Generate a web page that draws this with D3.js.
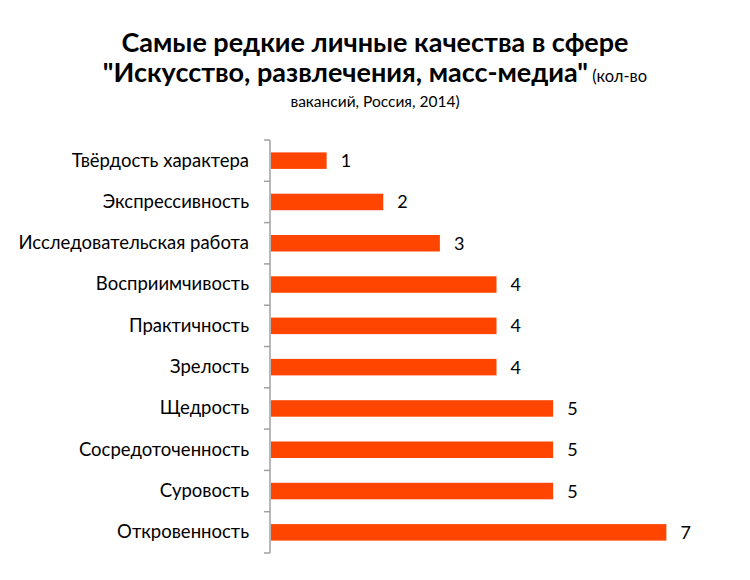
<!DOCTYPE html>
<html>
<head>
<meta charset="utf-8">
<script src="https://cdn.jsdelivr.net/npm/d3@7"></script>
<style>
body { margin: 0; background: #fff; }
</style>
</head>
<body>
<svg id="my_svg"></svg>
<script>
const width = 750;
const height = 580;

const categories = ["Твёрдость характера", "Экспрессивность", "Исследовательская работа",
    "Восприимчивость", "Практичность", "Зрелость", "Щедрость",
    "Сосредоточенность", "Суровость", "Откровенность"];
const values = [1, 2, 3, 4, 4, 4, 5, 5, 5, 7];

const font = "Lato, 'Open Sans', sans-serif";

const svg = d3.select('#my_svg')
    .attr('width', width)
    .attr('height', height);

// заголовок
const title = svg.append('text')
    .attr('text-anchor', 'middle')
    .attr('font-family', font)
    .attr('font-weight', 'bold')
    .attr('font-size', 27)
    .attr('fill', '#000');
title.append('tspan').attr('x', 375).attr('y', 52).text('Самые редкие личные качества в сфере');
const line2 = title.append('tspan').attr('x', 375).attr('y', 82);
line2.append('tspan').text('"Искусство, развлечения, масс-медиа"');
line2.append('tspan').attr('font-size', 16.5).attr('font-weight', 'normal').text(' (кол-во');

svg.append('text')
    .attr('x', 375)
    .attr('y', 107)
    .attr('text-anchor', 'middle')
    .attr('font-family', font)
    .attr('font-size', 15.5)
    .text('вакансий, Россия, 2014)');

const x0 = 270;
const x = d3.scaleLinear()
    .domain([0, 8])
    .range([x0, x0 + 453]);

const y = d3.scaleBand()
    .domain(categories)
    .range([140, 553])
    .paddingInner(0.6)
    .paddingOuter(0.3);

// ось
const yAxis = d3.axisLeft(y)
    .tickSize(0)
    .tickPadding(21);

const axis_g = svg.append('g')
    .attr('transform', `translate(${x0},0)`)
    .call(yAxis);
axis_g.select('.domain').remove();
axis_g.selectAll('text')
    .attr('font-family', font)
    .attr('font-size', 18.5)
    .attr('fill', '#000');

// деления между категориями
const step = (553 - 140) / categories.length;
const bounds = d3.range(categories.length + 1).map(i => 140 + i * step);
svg.append('g')
    .selectAll('line')
    .data(bounds)
    .enter().append('line')
    .attr('x1', x0 - 6)
    .attr('x2', x0)
    .attr('y1', d => d)
    .attr('y2', d => d)
    .attr('stroke', '#a0a0a0')
    .attr('stroke-width', 1.5);
svg.append('line')
    .attr('x1', x0)
    .attr('x2', x0)
    .attr('y1', 140)
    .attr('y2', 553)
    .attr('stroke', '#a0a0a0')
    .attr('stroke-width', 1.5);

const bars_g = svg.append('g');
bars_g.selectAll('rect')
    .data(values)
    .enter().append('rect')
    .attr('x', x0 + 1)
    .attr('y', (d, i) => y(categories[i]))
    .attr('width', d => x(d) - x0 - 1)
    .attr('height', y.bandwidth())
    .attr('fill', '#ff4500');

bars_g.selectAll('text')
    .data(values)
    .enter().append('text')
    .attr('x', d => x(d) + 14)
    .attr('y', (d, i) => y(categories[i]) + y.bandwidth() / 2)
    .attr('dy', '0.36em')
    .attr('font-family', font)
    .attr('font-size', 18)
    .text(d => d);
</script>
</body>
</html>
